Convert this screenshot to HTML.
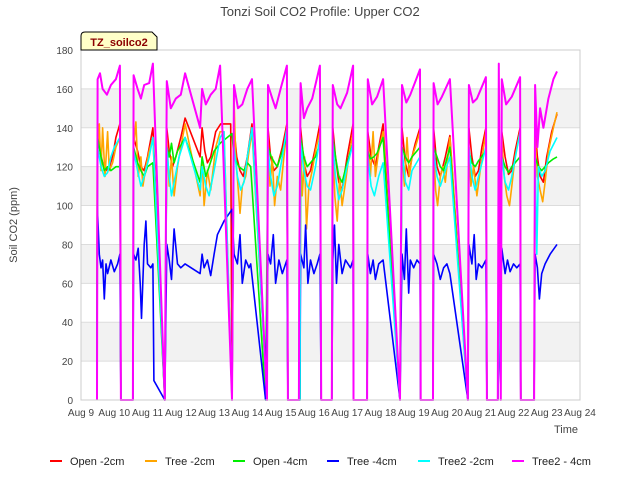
<!DOCTYPE html>
<html><head><meta charset="utf-8"><style>
body{margin:0;background:#fff;font-family:"Liberation Sans",sans-serif;}
svg text{font-family:"Liberation Sans",sans-serif;}
</style></head><body>
<svg id="chart" width="640" height="480" xmlns="http://www.w3.org/2000/svg">
<text x="320" y="16" text-anchor="middle" font-size="13" fill="#444">Tonzi Soil CO2 Profile: Upper CO2</text>
<g id="grid"></g>
<g id="series"></g>
<g id="axes"></g>
<text transform="translate(17,225) rotate(-90)" text-anchor="middle" font-size="11" fill="#444">Soil CO2 (ppm)</text>
<text x="566" y="433" text-anchor="middle" font-size="11" fill="#444">Time</text>
<g>
<path d="M81,50 L81,36 Q81,32 85,32 L152,32 L157,37 L157,50 Z" fill="#ffffc8" stroke="#000" stroke-width="1"/>
<text x="119" y="46" text-anchor="middle" font-size="11" font-weight="bold" fill="#8b0000">TZ_soilco2</text>
</g>
<g id="legend"></g>
</svg>
<script>
const yTicks=[0,20,40,60,80,100,120,140,160,180];
const xTickLabels=["Aug 9","Aug 10","Aug 11","Aug 12","Aug 13","Aug 14","Aug 15","Aug 16","Aug 17","Aug 18","Aug 19","Aug 20","Aug 21","Aug 22","Aug 23","Aug 24"];
const seriesNames=["Open -2cm","Tree -2cm","Open -4cm","Tree -4cm","Tree2 -2cm","Tree2 - 4cm"];
const seriesColors=["#ff0000","#ffa500","#00ee00","#0000ff","#00ffff","#ff00ff"];
const openTwo=[[0.48,0],[0.49,140],[0.55,130],[0.65,122],[0.75,118],[0.85,120],[0.95,125],[1.05,135],[1.17,142],[1.20,0],[1.56,0],[1.58,135],[1.7,128],[1.8,120],[1.9,118],[2.0,125],[2.16,140],[2.52,0],[2.58,140],[2.65,128],[2.75,120],[2.85,125],[3.0,135],[3.13,145],[3.58,125],[3.64,140],[3.72,128],[3.8,122],[3.9,125],[4.05,138],[4.2,142],[4.5,142],[4.54,0],[4.60,140],[4.68,125],[4.78,118],[4.88,115],[5.0,125],[5.14,142],[5.59,0],[5.62,140],[5.7,125],[5.8,118],[5.9,120],[6.05,130],[6.19,142],[6.22,0],[6.58,0],[6.6,140],[6.7,122],[6.8,115],[6.9,118],[7.05,130],[7.18,142],[7.22,0],[7.54,0],[7.57,140],[7.65,125],[7.75,112],[7.85,108],[8.0,125],[8.18,142],[8.19,0],[8.60,0],[8.62,138],[8.72,125],[8.85,120],[8.95,130],[9.08,142],[9.59,0],[9.65,140],[9.75,122],[9.85,115],[9.95,125],[10.05,132],[10.19,140],[10.21,0],[10.58,0],[10.6,140],[10.7,120],[10.8,115],[10.95,125],[11.09,136],[11.63,0],[11.66,140],[11.75,125],[11.85,115],[11.95,118],[12.05,130],[12.17,140],[12.2,0],[12.53,0],[12.65,138],[12.75,125],[12.85,116],[12.95,118],[13.05,128],[13.2,140],[13.22,0],[13.62,0],[13.65,140],[13.72,125],[13.8,115],[13.9,112],[14.0,125],[14.15,138],[14.31,147]];
const treeTwo=[[0.48,0],[0.49,125],[0.55,142],[0.6,118],[0.65,140],[0.72,115],[0.8,138],[0.85,118],[0.95,122],[1.05,130],[1.17,135],[1.20,0],[1.56,0],[1.58,130],[1.65,143],[1.72,115],[1.8,125],[1.86,110],[1.95,120],[2.05,128],[2.16,135],[2.52,0],[2.58,135],[2.65,110],[2.72,125],[2.8,105],[2.9,120],[3.0,130],[3.13,142],[3.58,105],[3.64,125],[3.7,100],[3.8,118],[3.9,108],[4.05,130],[4.18,138],[4.3,138],[4.54,0],[4.60,155],[4.65,125],[4.72,110],[4.78,96],[4.85,110],[4.95,115],[5.05,128],[5.14,138],[5.59,0],[5.62,135],[5.68,110],[5.75,125],[5.82,100],[5.9,115],[6.0,108],[6.1,125],[6.19,138],[6.22,0],[6.58,0],[6.6,135],[6.65,105],[6.72,125],[6.78,88],[6.85,110],[6.95,118],[7.05,128],[7.18,138],[7.22,0],[7.54,0],[7.57,132],[7.63,105],[7.7,92],[7.78,115],[7.85,100],[7.95,112],[8.05,125],[8.18,138],[8.19,0],[8.60,0],[8.62,135],[8.7,115],[8.78,138],[8.85,115],[8.95,128],[9.08,138],[9.59,0],[9.65,130],[9.72,110],[9.8,135],[9.87,115],[9.95,125],[10.05,130],[10.19,138],[10.21,0],[10.58,0],[10.6,130],[10.66,108],[10.72,100],[10.8,115],[10.88,120],[10.95,112],[11.09,135],[11.63,0],[11.66,130],[11.72,110],[11.8,120],[11.9,105],[12.0,118],[12.17,138],[12.2,0],[12.53,0],[12.65,135],[12.72,115],[12.8,105],[12.88,100],[12.95,110],[13.05,125],[13.2,138],[13.22,0],[13.62,0],[13.65,135],[13.72,115],[13.8,108],[13.88,102],[13.95,112],[14.05,128],[14.2,140],[14.31,148]];
const openFour=[[0.48,0],[0.49,100],[0.5,135],[0.6,125],[0.7,118],[0.8,120],[0.9,118],[1.05,120],[1.17,120],[1.20,0],[1.56,0],[1.58,130],[1.7,122],[1.8,118],[1.9,115],[2.0,120],[2.16,122],[2.52,0],[2.58,130],[2.65,125],[2.72,132],[2.8,122],[2.9,128],[3.13,135],[3.58,112],[3.64,125],[3.75,115],[3.85,120],[4.0,128],[4.18,132],[4.54,137],[4.6,125],[4.75,120],[4.9,118],[5.0,122],[5.1,120],[5.55,0],[5.62,130],[5.72,125],[5.82,122],[5.9,120],[6.05,128],[6.19,135],[6.22,0],[6.58,0],[6.6,135],[6.7,125],[6.8,120],[6.9,122],[7.05,125],[7.18,132],[7.22,0],[7.54,0],[7.57,135],[7.65,125],[7.75,115],[7.85,112],[8.0,122],[8.18,132],[8.19,0],[8.60,0],[8.62,128],[8.7,124],[8.8,125],[8.9,127],[9.08,135],[9.59,0],[9.65,130],[9.75,125],[9.85,122],[9.95,125],[10.19,130],[10.21,0],[10.58,0],[10.6,130],[10.7,125],[10.8,120],[10.9,118],[11.09,130],[11.63,0],[11.66,128],[11.75,122],[11.85,120],[11.95,123],[12.17,128],[12.2,0],[12.53,0],[12.65,125],[12.75,120],[12.85,117],[12.95,120],[13.2,125],[13.22,0],[13.62,0],[13.65,125],[13.75,120],[13.85,118],[13.95,120],[14.05,122],[14.2,124],[14.31,125]];
const treeFour=[[0.48,0],[0.49,100],[0.55,75],[0.6,68],[0.65,72],[0.7,52],[0.75,70],[0.8,65],[0.9,72],[1.0,66],[1.1,70],[1.17,75],[1.20,0],[1.56,0],[1.58,75],[1.65,72],[1.72,78],[1.78,60],[1.82,42],[1.9,80],[1.95,92],[2.0,70],[2.1,68],[2.16,70],[2.19,10],[2.52,0],[2.58,80],[2.65,72],[2.72,62],[2.8,88],[2.9,70],[3.0,68],[3.13,70],[3.58,65],[3.64,75],[3.7,68],[3.8,72],[3.9,64],[4.0,75],[4.1,85],[4.3,92],[4.54,98],[4.6,75],[4.7,70],[4.78,85],[4.85,60],[4.95,72],[5.05,68],[5.1,70],[5.55,0],[5.62,75],[5.7,70],[5.78,85],[5.85,60],[5.95,72],[6.05,65],[6.19,72],[6.22,0],[6.58,0],[6.6,75],[6.7,68],[6.75,90],[6.82,60],[6.9,72],[7.0,65],[7.1,70],[7.18,75],[7.22,0],[7.54,0],[7.57,72],[7.62,90],[7.68,60],[7.75,80],[7.85,65],[7.95,72],[8.1,68],[8.18,72],[8.19,0],[8.60,0],[8.62,75],[8.7,65],[8.78,72],[8.85,62],[8.95,70],[9.08,72],[9.59,0],[9.65,75],[9.72,62],[9.78,88],[9.85,55],[9.9,72],[10.0,68],[10.1,72],[10.19,70],[10.21,0],[10.58,0],[10.6,75],[10.7,70],[10.8,62],[10.9,68],[11.0,70],[11.09,65],[11.63,0],[11.66,80],[11.75,70],[11.82,85],[11.88,62],[11.95,70],[12.05,68],[12.17,72],[12.2,0],[12.53,0],[12.65,78],[12.75,65],[12.82,72],[12.9,66],[13.0,70],[13.1,68],[13.2,70],[13.22,0],[13.62,0],[13.65,75],[13.72,68],[13.78,52],[13.85,65],[13.95,70],[14.1,75],[14.31,80]];
const treeTwoTwo=[[0.48,0],[0.5,130],[0.6,120],[0.7,115],[0.8,117],[0.9,125],[1.0,130],[1.17,135],[1.20,0],[1.56,0],[1.58,128],[1.7,118],[1.8,110],[1.9,115],[2.05,125],[2.16,135],[2.52,0],[2.58,130],[2.65,115],[2.72,105],[2.8,112],[2.95,125],[3.13,135],[3.58,108],[3.64,120],[3.75,110],[3.85,105],[4.0,118],[4.18,135],[4.3,138],[4.54,0],[4.60,130],[4.7,115],[4.8,108],[4.9,112],[5.0,125],[5.14,140],[5.59,0],[5.62,130],[5.7,115],[5.8,105],[5.9,110],[6.05,125],[6.19,140],[6.22,0],[6.58,0],[6.6,132],[6.7,118],[6.8,110],[6.9,108],[7.05,120],[7.18,135],[7.22,0],[7.54,0],[7.57,132],[7.65,115],[7.75,103],[7.85,108],[8.0,120],[8.18,132],[8.19,0],[8.60,0],[8.62,125],[8.72,110],[8.82,105],[8.95,115],[9.08,122],[9.59,0],[9.65,128],[9.75,112],[9.85,108],[9.95,118],[10.19,125],[10.21,0],[10.58,0],[10.6,128],[10.7,115],[10.8,110],[10.95,118],[11.09,125],[11.63,0],[11.66,130],[11.75,115],[11.85,108],[11.95,115],[12.17,130],[12.2,0],[12.53,0],[12.65,125],[12.75,112],[12.85,108],[12.95,115],[13.2,138],[13.22,0],[13.62,0],[13.65,128],[13.7,75],[13.75,120],[13.85,115],[13.95,118],[14.1,128],[14.31,135]];
const treeTwoFour=[[0.48,0],[0.50,165],[0.57,168],[0.65,160],[0.78,157],[0.9,162],[1.05,165],[1.17,172],[1.20,0],[1.56,0],[1.58,167],[1.7,160],[1.8,155],[1.9,162],[2.05,163],[2.16,173],[2.52,0],[2.58,164],[2.7,150],[2.85,155],[3.0,157],[3.13,168],[3.58,140],[3.64,160],[3.75,152],[3.9,157],[4.05,160],[4.18,172],[4.54,0],[4.60,162],[4.72,150],[4.85,152],[5.0,160],[5.14,165],[5.59,0],[5.62,162],[5.75,155],[5.85,150],[6.0,160],[6.19,172],[6.22,0],[6.55,0],[6.56,60],[6.6,163],[6.7,145],[6.8,150],[6.95,155],[7.18,172],[7.22,0],[7.54,0],[7.57,162],[7.7,152],[7.8,150],[8.0,158],[8.18,172],[8.19,0],[8.60,0],[8.62,165],[8.75,152],[8.9,156],[9.08,165],[9.59,0],[9.65,162],[9.78,153],[9.9,157],[10.19,170],[10.21,0],[10.58,0],[10.6,163],[10.72,152],[10.85,156],[11.09,165],[11.63,0],[11.66,162],[11.78,153],[11.9,155],[12.17,166],[12.2,0],[12.53,0],[12.56,173],[12.62,0],[12.65,165],[12.78,152],[12.95,156],[13.2,166],[13.22,0],[13.62,0],[13.65,162],[13.72,130],[13.8,150],[13.9,140],[14.05,155],[14.2,165],[14.31,169]];
const allSeries=[openTwo,treeTwo,openFour,treeFour,treeTwoTwo,treeTwoFour];

const X0=81,X1=580,Y0=400,Y1=50,DAYS=15,YMAX=180;
function xs(d){return X0+d*(X1-X0)/DAYS;}
function ys(v){return Y0-v*(Y0-Y1)/YMAX;}
const NS="http://www.w3.org/2000/svg";
function mk(tag,attrs,parent){const e=document.createElementNS(NS,tag);for(const k in attrs)e.setAttribute(k,attrs[k]);parent.appendChild(e);return e;}
const grid=document.getElementById('grid'),axes=document.getElementById('axes'),ser=document.getElementById('series'),leg=document.getElementById('legend');
mk('rect',{x:X0,y:Y1,width:X1-X0,height:Y0-Y1,fill:'#fff'},grid);
for(let i=0;i<yTicks.length-1;i++){
  if(i%2===1){const r=mk('rect',{x:X0,y:ys(yTicks[i+1]),width:X1-X0,height:ys(yTicks[i])-ys(yTicks[i+1]),fill:'#f2f2f2'},grid);
  
  }
}
yTicks.forEach(v=>{
  const l=mk('line',{x1:X0,x2:X1,y1:ys(v),y2:ys(v),stroke:'#dcdcdc','stroke-width':1},grid);
  
  
  const t=mk('text',{x:X0-8,y:ys(v)+4,'text-anchor':'end','font-size':10,fill:'#444'},axes);
  
  
  t.textContent=v;
});
mk('rect',{x:X0,y:Y1,width:X1-X0,height:Y0-Y1,fill:'none',stroke:'#ccc'},axes);
xTickLabels.forEach((lab,i)=>{
  const t=mk('text',{x:xs(i),y:416,'text-anchor':'middle','font-size':10,fill:'#444'},axes);
  
  
  t.textContent=lab;
});
allSeries.forEach((data,si)=>{
  const d=data.map((p,i)=>(i?'L':'M')+xs(p[0]).toFixed(1)+','+ys(p[1]).toFixed(1)).join(' ');
  const p=mk('path',{d:d,fill:'none',stroke:seriesColors[si],'stroke-width':si===5?2:1.6,'stroke-linejoin':'round'},ser);
  
  
});
const legX=[50,145,233,327,418,512];
seriesNames.forEach((n,i)=>{
  const g=mk('g',{},leg);
  
  
  mk('line',{x1:legX[i],x2:legX[i]+12,y1:461,y2:461,stroke:seriesColors[i],'stroke-width':2},g);
  const t=mk('text',{x:legX[i]+20,y:465,'font-size':11,fill:'#222'},g);
  t.textContent=n;
});
</script>
</body></html>
